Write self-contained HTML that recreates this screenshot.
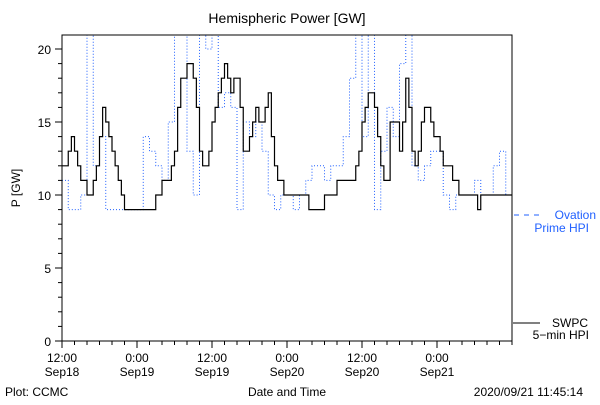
<!DOCTYPE html>
<html><head><meta charset="utf-8"><style>
body{margin:0;background:#fff;}
svg text{font-family:"Liberation Sans",sans-serif;font-size:12px;}
</style></head><body>
<svg id="chart" width="600" height="400" xmlns="http://www.w3.org/2000/svg">
<rect width="600" height="400" fill="#fff"/>
<text x="287" y="23" text-anchor="middle" style="font-size:14px">Hemispheric Power [GW]</text>
<text transform="translate(20,188) rotate(-90)" text-anchor="middle">P [GW]</text>
<defs><clipPath id="pc"><rect x="62" y="35" width="450" height="306"/></clipPath></defs>
<g id="series" clip-path="url(#pc)"></g>
<rect x="62" y="35" width="450" height="306" fill="none" stroke="#000" stroke-width="1"/>
<g id="axes"></g>
<line x1="514" y1="215" x2="540" y2="215" stroke="#2060ff" stroke-dasharray="5,5"/>
<text x="596" y="219" text-anchor="end" fill="#2060ff">Ovation</text>
<text x="589" y="232" text-anchor="end" fill="#2060ff">Prime HPI</text>
<line x1="513" y1="323" x2="540" y2="323" stroke="#000"/>
<text x="588" y="327" text-anchor="end">SWPC</text>
<text x="589" y="339" text-anchor="end">5−min HPI</text>
<text x="287" y="396" text-anchor="middle">Date and Time</text>
<text x="5" y="396">Plot: CCMC</text>
<text x="583" y="396" text-anchor="end">2020/09/21 11:45:14</text>
</svg>
<script>
const SWPC_STEP_HOURS = 0.5;
const swpc = [12,12,13,14,13,12,11,11,10,10,11,12,14,16,15,14,13,12,11,10,9,9,9,9,9,9,9,9,9,9,10,10,11,11,11,12,13,16,18,18,19,19,18,16,13,12,12,13,15,16,17,18,19,18,17,18,18,16,13,13,14,15,16,15,15,16,17,14,12,11,11,10,10,10,10,10,10,10,10,9,9,9,9,9,10,10,10,10,11,11,11,11,11,11,12,13,15,16,17,17,16,14,12,11,11,15,15,15,13,15,18,16,13,12,13,15,16,16,15,14,14,13,12,12,12,11,11,10,10,10,10,10,10,9,10,10,10,10,10,10,10,10,10,10];
const OVATION_STEP_HOURS = 1;
const ovation = [11,9,9,10,21,12,14,9,9,9,9,9,9,14,13,12,11,15,21,21,13,10,21,20,21,16,17,16,9,15,14,15,13,10,9,10,10,9,10,11,12,12,11,12,12,14,18,21,14,21,9,13,16,14,19,21,12,11,12,13,13,10,9,10,10,10,11,10,10,12,13,10];
const xTickHours = [0,12,24,36,48,60];
const xTickLabels = [["12:00","Sep18"],["0:00","Sep19"],["12:00","Sep19"],["0:00","Sep20"],["12:00","Sep20"],["0:00","Sep21"]];
const yTicks = [0,5,10,15,20];
const X0=62,X1=512,HMAX=72,Y0=341,PX=14.6;
const NS="http://www.w3.org/2000/svg";
const xs=h=>X0+(X1-X0)*h/HMAX;
const ys=v=>Y0-v*PX;
function stepPath(vals,step){let d="";for(let i=0;i<vals.length;i++){const x=xs(i*step),x2=xs(Math.min((i+1)*step,HMAX)),y=ys(vals[i]);d+=(i==0?"M":"L")+x+","+y+"L"+x2+","+y;}return d;}
const g=document.getElementById('series');
const pb=document.createElementNS(NS,'path');


pb.setAttribute('d',stepPath(ovation,OVATION_STEP_HOURS));pb.setAttribute('fill','none');pb.setAttribute('stroke','#2060ff');pb.setAttribute('stroke-dasharray','1,2');
g.appendChild(pb);
const pk=document.createElementNS(NS,'path');


pk.setAttribute('d',stepPath(swpc,SWPC_STEP_HOURS));pk.setAttribute('fill','none');pk.setAttribute('stroke','#000');pk.setAttribute('stroke-width','1.2');
g.appendChild(pk);
const ax=document.getElementById('axes');
function ln(x1,y1,x2,y2){const l=document.createElementNS(NS,'line');l.setAttribute('x1',x1);l.setAttribute('y1',y1);l.setAttribute('x2',x2);l.setAttribute('y2',y2);l.setAttribute('stroke','#000');


ax.appendChild(l);}
function tx(x,y,s,anchor){const t=document.createElementNS(NS,'text');t.setAttribute('x',x);t.setAttribute('y',y);t.setAttribute('text-anchor',anchor);t.textContent=s;


ax.appendChild(t);}
for(let h=0;h<=HMAX;h+=2){const maj=xTickHours.includes(h);ln(xs(h),Y0,xs(h),Y0+(maj?7:4));}
xTickHours.forEach((h,i)=>{tx(xs(h),362,xTickLabels[i][0],'middle');tx(xs(h),376,xTickLabels[i][1],'middle');});
for(let v=0;v<=20;v++){const maj=yTicks.includes(v);ln(X0,ys(v),X0-(maj?7:4),ys(v));}
yTicks.forEach(v=>tx(X0-11,ys(v)+5,String(v),'end'));
</script>
</body></html>
